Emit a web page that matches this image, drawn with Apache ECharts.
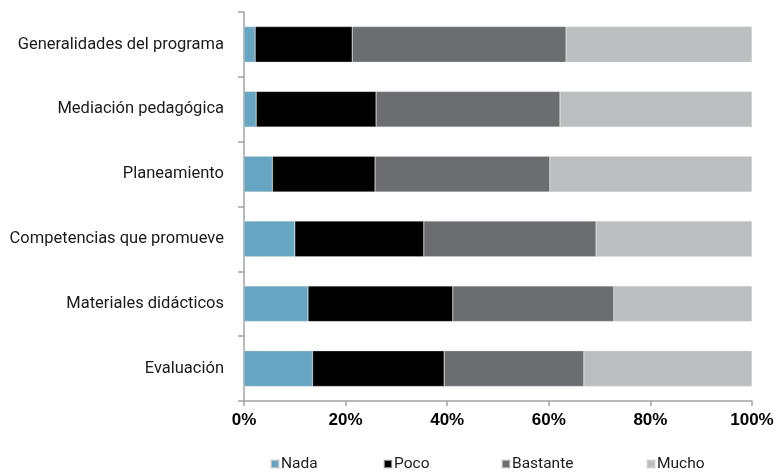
<!DOCTYPE html>
<html>
<head>
<meta charset="utf-8">
<script src="https://cdn.jsdelivr.net/npm/echarts@6/dist/echarts.min.js"></script>
<style>html,body{margin:0;padding:0;background:#fff}#c{width:777px;height:472px}</style>
</head>
<body>
<div id="c"></div>
<script>
const categories = ['Generalidades del programa','Mediación pedagógica','Planeamiento','Competencias que promueve','Materiales didácticos','Evaluación'];
const seriesNames = ['Nada','Poco','Bastante','Mucho'];
const nada = [2.2, 2.4, 5.6, 10.0, 12.6, 13.5];
const poco = [19.1, 23.6, 20.2, 25.4, 28.5, 25.9];
const bastante = [42.1, 36.2, 34.4, 33.9, 31.7, 27.5];
const mucho = [36.6, 37.8, 39.8, 30.7, 27.2, 33.1];
const xTicks = [0, 20, 40, 60, 80, 100];

const NARROW = "Roboto, 'Liberation Sans', sans-serif";
const colors = ['#66a6c2', '#000000', '#6c6d71', '#bdbec0'];
const values = [nada, poco, bastante, mucho];
const legendLefts = [265, 378, 496, 641];

const chart = echarts.init(document.getElementById('c'), null, {renderer: 'canvas'});
chart.setOption({
  animation: false,
  color: colors,
  grid: {left: 244, right: 25, top: 12, bottom: 71, containLabel: false, outerBoundsMode: 'none'},
  xAxis: {
    type: 'value', min: xTicks[0], max: xTicks[xTicks.length - 1], interval: 20,
    axisLine: {show: true, lineStyle: {color: '#a3a3a3', width: 1.5}},
    axisTick: {show: true, length: 5, lineStyle: {color: '#a3a3a3', width: 1.5}},
    splitLine: {show: false},
    axisLabel: {formatter: '{value}%', margin: 11, color: '#000', fontWeight: 'bold', fontSize: 17, fontFamily: "'Liberation Sans', Arial, sans-serif"}
  },
  yAxis: {
    type: 'category', data: categories, inverse: true,
    axisLine: {show: true, lineStyle: {color: '#a3a3a3', width: 1.5}},
    axisTick: {show: true, length: 6, alignWithLabel: false, lineStyle: {color: '#a3a3a3', width: 1.5}},
    axisLabel: {margin: 20, color: '#1a1a1a', fontSize: 16.5, fontFamily: NARROW}
  },
  legend: seriesNames.map((n, i) => ({
    left: legendLefts[i], top: 451, itemWidth: 8, itemHeight: 8,
    icon: 'rect',
    data: [n],
    textStyle: {color: '#1a1a1a', fontSize: 15.5, fontFamily: NARROW, padding: [0, 0, 0, -3]}
  })),
  series: seriesNames.map((n, i) => ({
    name: n, type: 'bar', stack: 'total', data: values[i],
    barCategoryGap: '45%',
    itemStyle: {color: colors[i], borderColor: 'rgba(220,220,220,0.6)', borderWidth: 0.5}
  }))
});
</script>
</body>
</html>
